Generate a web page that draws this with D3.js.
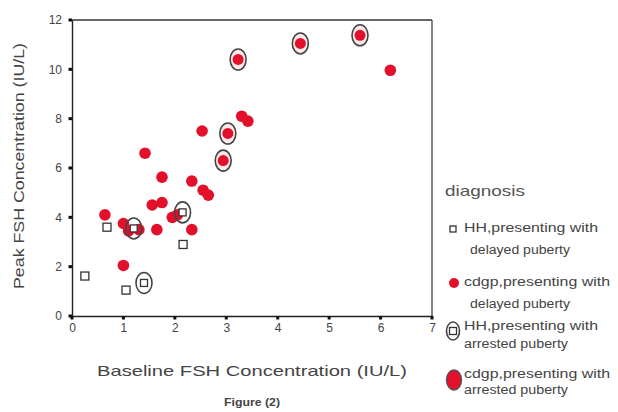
<!DOCTYPE html>
<html><head><meta charset="utf-8">
<script src="https://cdn.jsdelivr.net/npm/d3@7"></script>
<style>body{margin:0;background:#fff}svg{display:block}text{font-family:"Liberation Sans",Arial,sans-serif}</style>
</head><body><svg id="c" width="618" height="412"></svg>
<script>
const xTicks = [0,1,2,3,4,5,6,7];
const yTicks = [0,2,4,6,8,10,12];
const hhDelayed = [[0.25,1.62],[0.68,3.6],[1.05,1.05],[2.16,2.9]];
const cdgpDelayed = [[0.64,4.1],[1.0,2.05],[1.0,3.75],[1.1,3.45],[1.3,3.5],[1.65,3.5],[1.56,4.5],[1.75,4.6],[1.95,4.0],[2.05,4.1],[2.33,3.5],[2.55,5.1],[2.65,4.9],[1.42,6.6],[1.75,5.63],[2.33,5.47],[2.53,7.5],[3.3,8.1],[3.42,7.9],[6.19,9.96]];
const hhArrested = [[1.4,1.34],[1.2,3.55],[2.15,4.2]];
const cdgpArrested = [[2.94,6.3],[3.03,7.4],[3.23,10.4],[4.44,11.05],[5.6,11.38]];
const legendLabels = [["HH,presenting with","delayed puberty"],["cdgp,presenting with","delayed puberty"],["HH,presenting with","arrested puberty"],["cdgp,presenting with","arrested puberty"]];

const svg = d3.select("#c");
const x = d3.scaleLinear().domain([0,7]).range([72,432]);
const y = d3.scaleLinear().domain([0,12]).range([316,20]);
const RED = "#e3102b", INK = "#333";

// frame
svg.append("line").attr("x1",x(0)).attr("x2",x(7)).attr("y1",y(12)).attr("y2",y(12)).attr("stroke","#666").attr("stroke-width",2);
svg.append("line").attr("x1",x(7)).attr("x2",x(7)).attr("y1",y(12)).attr("y2",y(0)).attr("stroke","#444").attr("stroke-width",1.3);

const yAxis = svg.append("g").attr("transform",`translate(${x(0)},0)`)
  .call(d3.axisLeft(y).tickValues(yTicks).tickSize(0).tickPadding(10).tickFormat(d3.format("d")));
const xAxis = svg.append("g").attr("transform",`translate(0,${y(0)})`)
  .call(d3.axisBottom(x).tickValues(xTicks).tickSize(0).tickPadding(7).tickFormat(d3.format("d")));
[yAxis,xAxis].forEach(g=>{
  g.select(".domain").attr("stroke","#222").attr("stroke-width",1.4);
  g.selectAll("text").attr("font-size",12).attr("fill","#444").attr("font-family","Liberation Sans, Arial, sans-serif");
});
// tick dots
svg.selectAll(".yd").data(yTicks).join("rect").attr("x",x(0)-3.5).attr("y",d=>y(d)-1.5).attr("width",3.5).attr("height",3).attr("fill","#111");
svg.selectAll(".xd").data(xTicks).join("rect").attr("x",d=>x(d)-1.5).attr("y",y(0)).attr("width",3).attr("height",3.5).attr("fill","#111");

function square(g,cx,cy,s){g.append("rect").attr("x",cx-s/2).attr("y",cy-s/2).attr("width",s).attr("height",s).attr("fill","#fff").attr("stroke",INK).attr("stroke-width",1.3);}
function ring(g,cx,cy,rx,ry){g.append("ellipse").attr("cx",cx).attr("cy",cy).attr("rx",rx).attr("ry",ry).attr("fill","none").attr("stroke","#444").attr("stroke-width",1.6);}

const pts = svg.append("g");
cdgpDelayed.forEach(d=>pts.append("circle").attr("cx",x(d[0])).attr("cy",y(d[1])).attr("r",5.8).attr("fill",RED));
hhDelayed.forEach(d=>square(pts,x(d[0]),y(d[1]),8));
hhArrested.forEach(d=>{square(pts,x(d[0]),y(d[1]),7);ring(pts,x(d[0]),y(d[1]),8,10.5);});
cdgpArrested.forEach(d=>{
  pts.append("ellipse").attr("cx",x(d[0])).attr("cy",y(d[1])).attr("rx",8).attr("ry",10.5).attr("fill","#fde8ea").attr("stroke","#444").attr("stroke-width",1.6);
  pts.append("circle").attr("cx",x(d[0])).attr("cy",y(d[1])).attr("r",5.5).attr("fill",RED);
});

// titles
svg.append("text").attr("transform","translate(20,166) rotate(-90)").attr("text-anchor","middle").attr("dominant-baseline","middle").attr("font-size",15).attr("fill","#444")
  .attr("textLength",246).attr("lengthAdjust","spacingAndGlyphs").text("Peak FSH Concentration (IU/L)");
svg.append("text").attr("x",252).attr("y",372).attr("text-anchor","middle").attr("dominant-baseline","middle").attr("font-size",15).attr("fill","#444")
  .attr("textLength",310).attr("lengthAdjust","spacingAndGlyphs").text("Baseline FSH Concentration (IU/L)");
svg.append("text").attr("x",252).attr("y",403).attr("text-anchor","middle").attr("dominant-baseline","middle").attr("font-size",10).attr("font-weight","bold").attr("fill","#444")
  .attr("textLength",56).attr("lengthAdjust","spacingAndGlyphs").text("Figure (2)");

// legend
const lg = svg.append("g");
lg.append("text").attr("x",445).attr("y",192).attr("dominant-baseline","middle").attr("font-size",15).attr("fill","#555")
  .attr("textLength",80).attr("lengthAdjust","spacingAndGlyphs").text("diagnosis");
const rows = [[229,251],[283,305],[327,345],[375,391]];
const lens = [[134,100],[146,100],[134,104],[146,104]];
rows.forEach((r,i)=>{
  lg.append("text").attr("x",464).attr("y",r[0]).attr("dominant-baseline","middle").attr("font-size",12).attr("fill","#444")
    .attr("textLength",lens[i][0]).attr("lengthAdjust","spacingAndGlyphs").text(legendLabels[i][0]);
  lg.append("text").attr("x",i<2?470:464).attr("y",r[1]).attr("dominant-baseline","middle").attr("font-size",12).attr("fill","#444")
    .attr("textLength",lens[i][1]).attr("lengthAdjust","spacingAndGlyphs").text(legendLabels[i][1]);
});
square(lg,453,229,6);
lg.append("circle").attr("cx",454).attr("cy",283).attr("r",5).attr("fill",RED);
square(lg,453,331,7); ring(lg,453,331,6.5,9);
lg.append("ellipse").attr("cx",454).attr("cy",380).attr("rx",7.5).attr("ry",10).attr("fill",RED).attr("stroke","#555").attr("stroke-width",1.4);
</script></body></html>
